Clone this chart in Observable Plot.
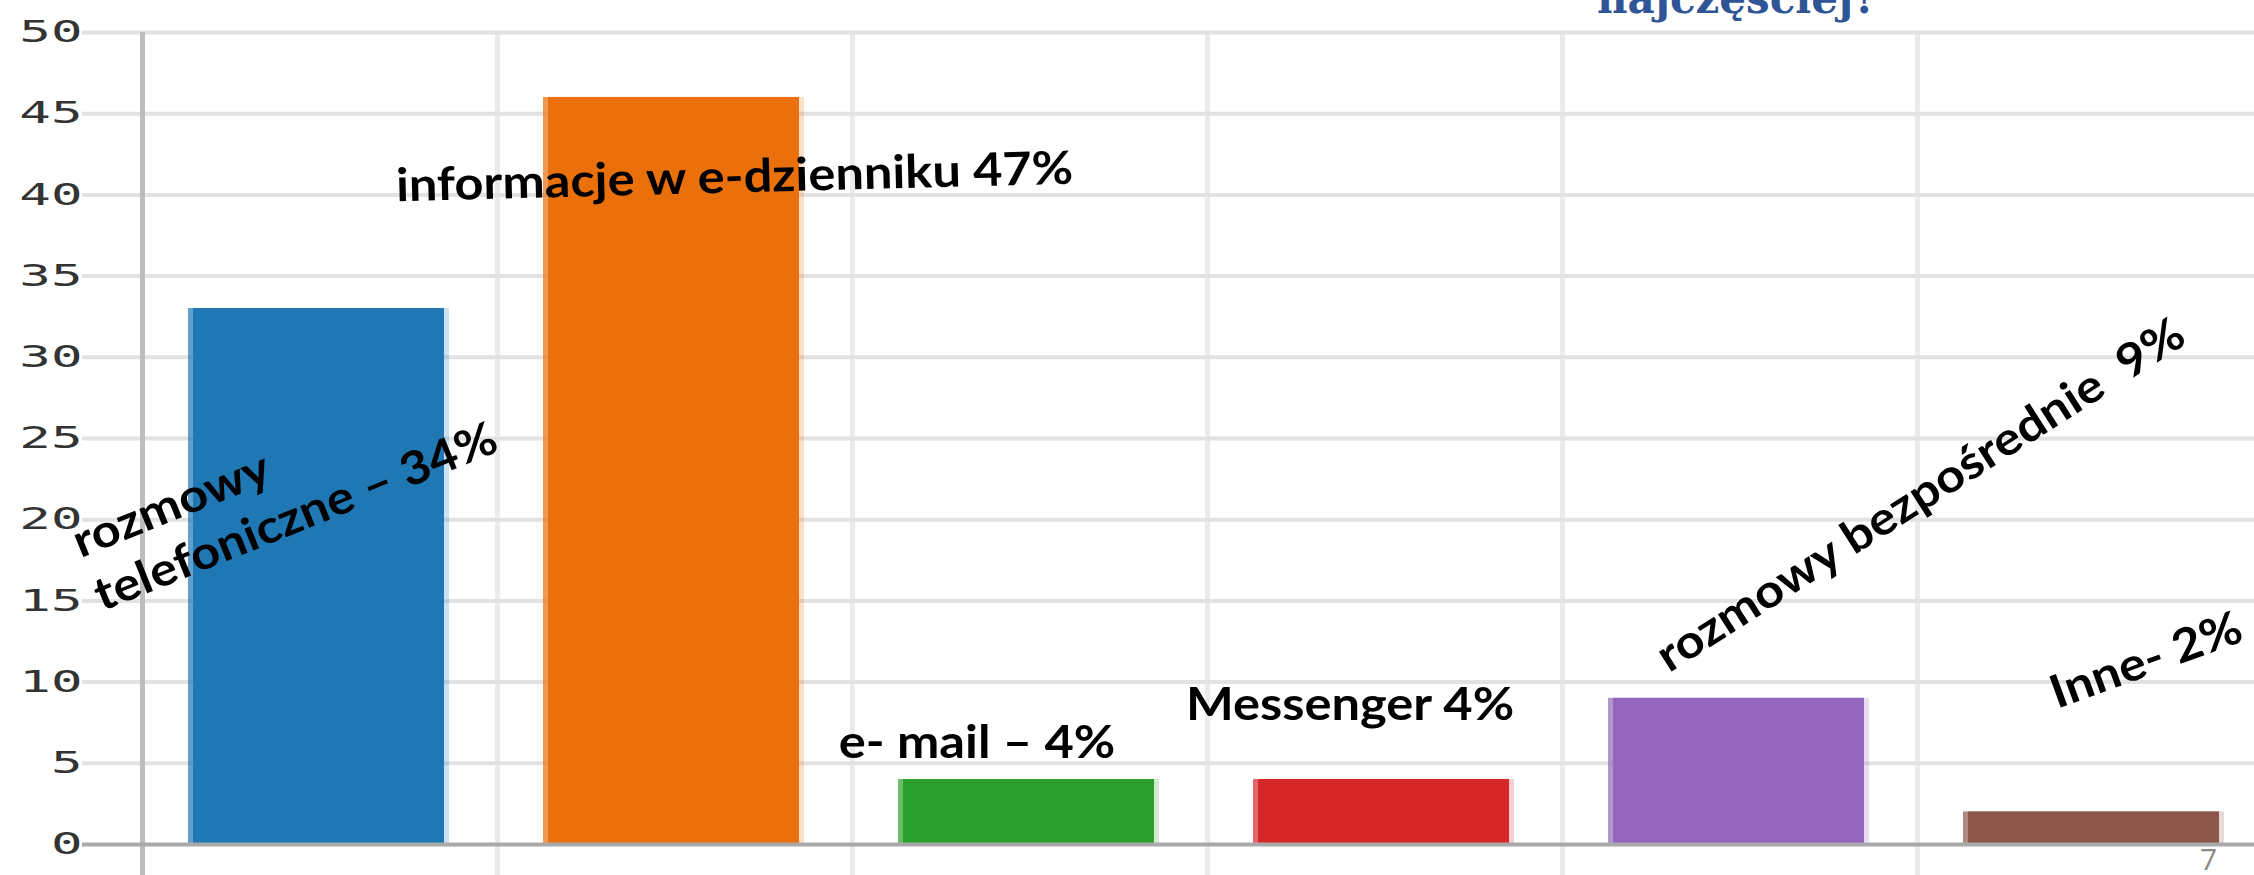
<!DOCTYPE html>
<html><head><meta charset="utf-8">
<script src="https://cdn.jsdelivr.net/npm/d3@7"></script>
<script src="https://cdn.jsdelivr.net/npm/@observablehq/plot@0.6"></script>
<style>
body{margin:0;background:#fff;}
#wrap{position:relative;width:2254px;height:875px;overflow:hidden;background:#fff;}
#title{position:absolute;left:1597px;top:-22px;font-family:"DejaVu Serif";font-weight:bold;font-size:42px;line-height:1;color:#2f5597;white-space:nowrap;}
#page{position:absolute;left:2200px;top:844px;font-family:"Open Sans";font-weight:400;font-size:30px;color:#8a8a8a;line-height:1;}
svg text{white-space:pre;}
</style></head><body>
<div id="wrap"><div id="chart"></div><div id="title">najczęściej?</div><div id="page">7</div></div>
<script>
const categories = ["rozmowy telefoniczne", "informacje w e-dzienniku", "e-mail", "Messenger", "rozmowy bezpośrednie", "Inne"];
const values = [33, 46, 4, 4, 9, 2];
const labels = ["rozmowy\ntelefoniczne – 34%", "informacje w e-dzienniku 47%", "e- mail – 4%", "Messenger 4%", "rozmowy bezpośrednie  9%", "Inne- 2%"];
const colors = ["#1f77b4", "#e9700a", "#2ca02c", "#d62728", "#9467bd", "#8c564b"];
const yTicks = [0, 5, 10, 15, 20, 25, 30, 35, 40, 45, 50];

const data = categories.map((c, i) => ({category: c, value: values[i], label: labels[i], color: colors[i]}));

// label placement (style, not data)
const labelStyle = [
  {dx: -218, dy: 303, rotate: -22, textAnchor: "start"},
  {dx: 60, dy: 95, rotate: -1.5, textAnchor: "middle"},
  {dx: -53, dy: -22, rotate: 0, textAnchor: "middle"},
  {dx: -35, dy: -60, rotate: 0, textAnchor: "middle"},
  {dx: -71, dy: -25, rotate: -32.5, textAnchor: "start"},
  {dx: -38, dy: -103, rotate: -20, textAnchor: "start"}
];

const xRange = [142, 2272];
const bw = (xRange[1] - xRange[0]) / categories.length;

const labelMarks = data.map((d, i) => Plot.text([d], {
  x: "category", y: "value", text: "label",
  dx: labelStyle[i].dx, dy: labelStyle[i].dy, rotate: labelStyle[i].rotate,
  textAnchor: labelStyle[i].textAnchor, lineAnchor: "bottom", lineHeight: 1.25,
  fontSize: 46, fontWeight: 700, fontFamily: "Lato", fill: "#000"
}));

const chart = Plot.plot({
  width: 2254, height: 875,
  marginLeft: 142, marginRight: 0, marginTop: 32, marginBottom: 31,
  x: {domain: categories, range: xRange, padding: 0, axis: null},
  y: {domain: [0, 50], axis: null},
  color: {type: "identity"},
  style: {background: "transparent", overflow: "visible"},
  marks: [
    Plot.ruleX(categories.slice(1), {dx: -bw / 2, stroke: "#ebebeb", strokeWidth: 5, insetBottom: -31}),
    Plot.ruleY(yTicks.filter(t => t > 0), {y: d => d, stroke: "#e2e2e2", strokeWidth: 4, insetLeft: -60}),
    Plot.ruleX([categories[0]], {dx: -bw / 2, stroke: "#bdbdbd", strokeWidth: 5, insetBottom: -31}),
    Plot.barY(data, {x: "category", y: "value", fill: "color", fillOpacity: 0.22, insetLeft: 46, insetRight: 48}),
    Plot.barY(data, {x: "category", y: "value", fill: "color", fillOpacity: 0.62, insetLeft: 46, insetRight: 53}),
    Plot.barY(data, {x: "category", y: "value", fill: "color", insetLeft: 51, insetRight: 53}),
    Plot.ruleY([0], {stroke: "#a9a9a9", strokeWidth: 4, insetLeft: -60}),
    Plot.axisY({ticks: yTicks, tickSize: 0, tickPadding: 60, fontSize: 30, fontFamily: "DejaVu Sans Mono", fill: "#333", label: null}),
    ...labelMarks
  ]
});
document.getElementById("chart").appendChild(chart);

function stretch(sel, s) {
  chart.querySelectorAll(sel).forEach(t => {
    const x = +(t.getAttribute("x") || 0);
    const T = t.getAttribute("transform") || "";
    t.setAttribute("transform", `${T} translate(${x},0) scale(${s},1) translate(${-x},0)`);
  });
}
stretch('g[aria-label="y-axis tick label"] text', 1.75);
stretch('g[aria-label="text"] text', 1.1);
</script>
</body></html>
